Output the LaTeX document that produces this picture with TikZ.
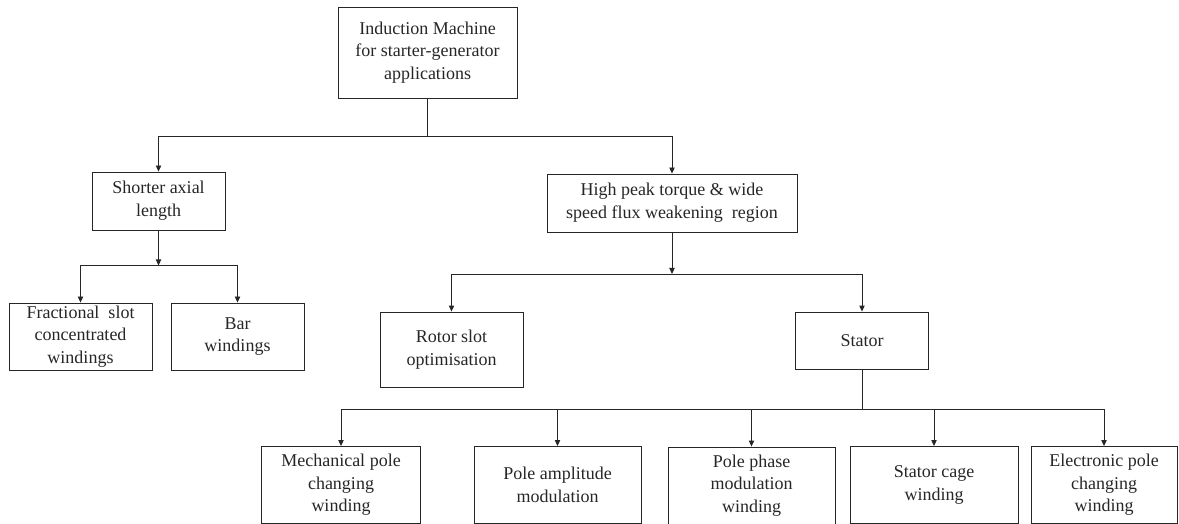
\documentclass[tikz,border=0pt]{standalone}
\usepackage{fontspec}
\setmainfont{Liberation Serif}
\usetikzlibrary{arrows.meta}

\begin{document}
\begin{tikzpicture}[x=0.75pt, y=-0.75pt, >={Triangle[length=4.5pt,width=4pt]},
  font=\fontsize{13.5}{17}\selectfont, line width=0.65pt, color=black!85,
  bx/.style 2 args={draw, align=center, inner sep=1pt,
    minimum width=#1*0.75pt, minimum height=#2*0.75pt}]
\useasboundingbox (0,0) rectangle (1179,524);
% --- root ---
\node[bx={179}{91}] (im) at (427.5,52.5) {Induction Machine\\for starter-generator\\applications};
% --- level 1: shorter axial length / high peak torque ---
\node[bx={133}{58}] (short) at (158.5,201) {Shorter axial\\length};
\node[bx={250}{58}] (peak) at (672,203) {High peak torque \& wide\\speed flux weakening\ \ region};
\coordinate (j1) at (427.5,136);
\draw (im.south) -- (j1);
\draw[->] (j1) -| (short.north);
\draw[->] (j1) -| (peak.north);
% --- shorter axial length: winding types ---
\node[bx={143}{67}] (fsc) at (80.5,336.5) {Fractional\ \ slot\\concentrated\\windings};
\node[bx={133}{67}] (bar) at (237.5,336.5) {Bar\\windings};
\coordinate (j2) at (158.5,265.5);
\draw[->] (short.south) -- (j2);
\draw[->] (j2) -| (fsc.north);
\draw[->] (j2) -| (bar.north);
% --- high peak torque: rotor / stator ---
\node[bx={143}{75}] (rotor) at (451.5,349.5) {Rotor slot\\optimisation};
\node[bx={133}{57}] (stator) at (862,340.5) {Stator};
\coordinate (j3) at (672,274);
\draw[->] (peak.south) -- (j3);
\draw[->] (j3) -| (rotor.north);
\draw[->] (j3) -| (stator.north);
% --- stator: pole changing options (boxes cut by the page edge) ---
\node[bx={159}{77}] (mech) at (341,485) {Mechanical pole\\changing\\winding};
\node[bx={167}{77}] (pam) at (557.5,485) {Pole amplitude\\modulation};
\node[bx={167}{77}] (ppm) at (751.5,485.5) {Pole phase\\modulation\\winding};
\node[bx={168}{77}] (cage) at (934,485) {Stator cage\\winding};
\node[bx={146}{77}] (epc) at (1104,485) {Electronic pole\\changing\\winding};
\coordinate (j4) at (862,409);
\draw (stator.south) -- (j4);
\draw[->] (j4) -| (mech.north);
\draw[->] (j4) -| (pam.north);
\draw[->] (j4) -| (ppm.north);
\draw[->] (j4) -| (cage.north);
\draw[->] (j4) -| (epc.north);
\end{tikzpicture}
\end{document}
